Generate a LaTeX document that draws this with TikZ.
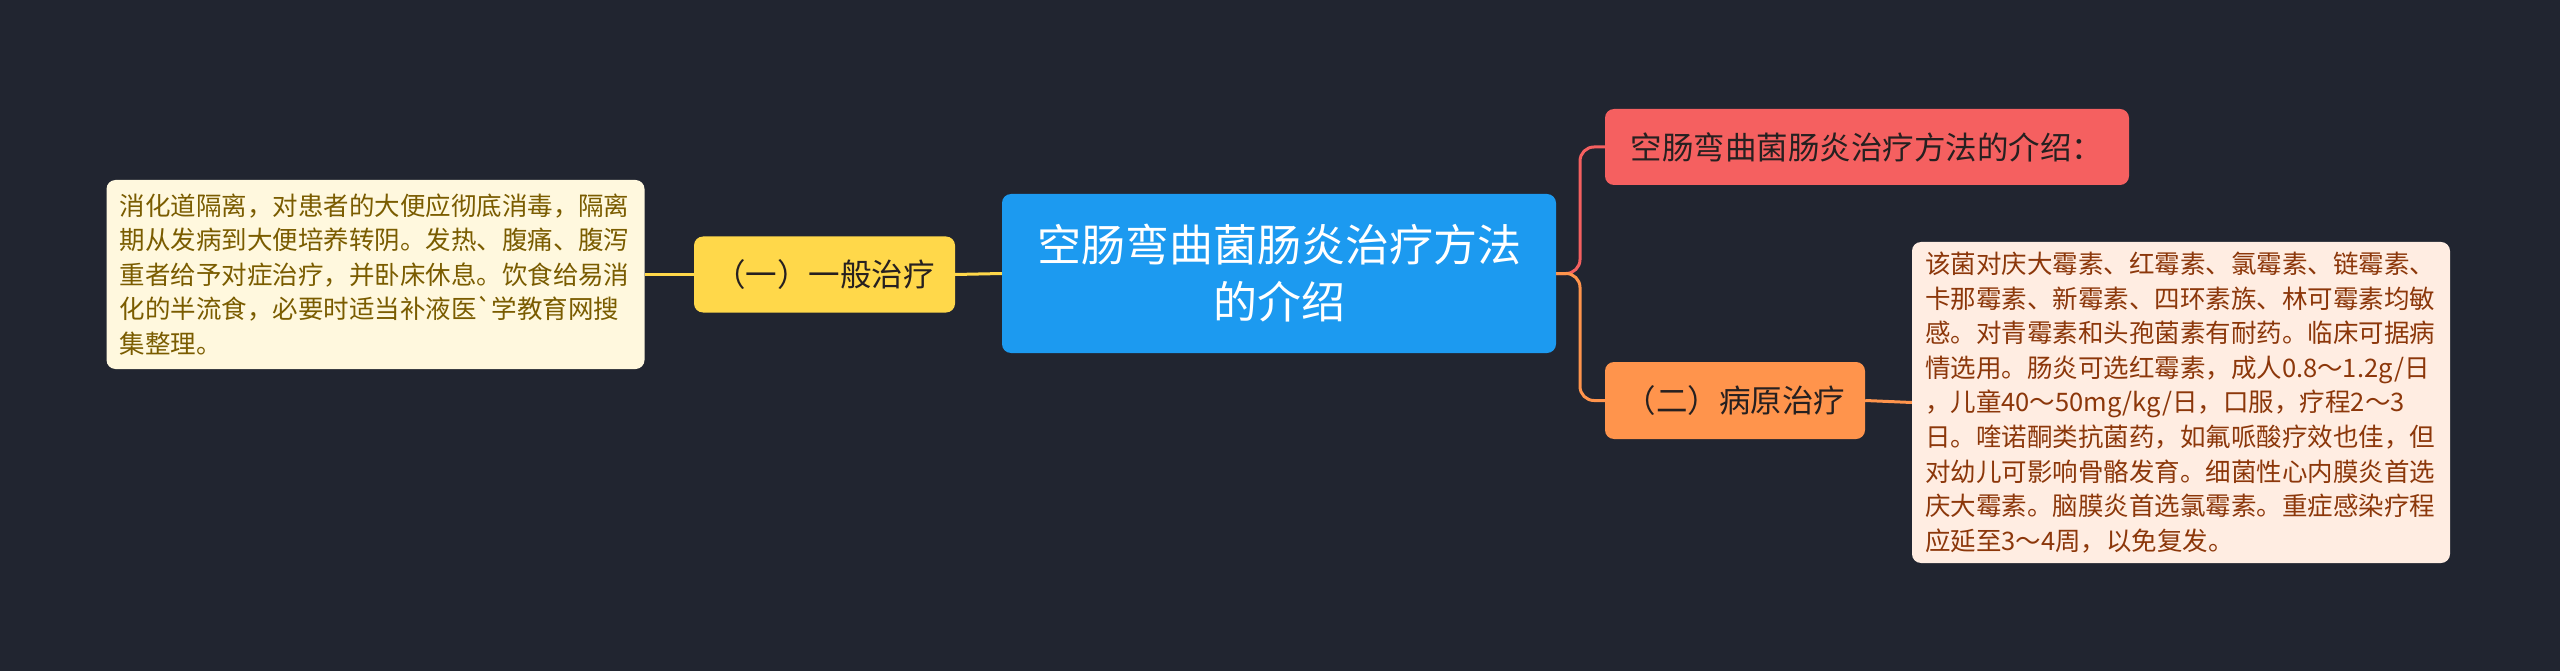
\documentclass[tikz,border=0pt]{standalone}
\usepackage{fontspec}
\setmainfont{Noto Sans CJK SC}
\usetikzlibrary{positioning}
\definecolor{bgdark}{RGB}{33,37,48}
\definecolor{blue1}{RGB}{28,154,240}
\definecolor{yellow1}{RGB}{255,216,74}
\definecolor{red1}{RGB}{245,96,96}
\definecolor{orange1}{RGB}{255,148,76}
\definecolor{cream1}{RGB}{255,248,222}
\definecolor{olive1}{RGB}{122,92,0}
\definecolor{peach1}{RGB}{255,237,226}
\definecolor{brown1}{RGB}{140,55,10}
\definecolor{ink1}{RGB}{38,32,32}
\tikzset{
  topic/.style={rounded corners=9pt, inner sep=0pt, align=center},
  leaf/.style={rounded corners=9pt, inner ysep=0pt, inner xsep=13pt, align=left,
    text width=512pt, font=\fontsize{25.5}{34.6}\selectfont},
  branch/.style={topic, text=ink1, minimum height=76pt, font=\fontsize{31.5}{38}\selectfont},
  link/.style={line width=3pt, rounded corners=14pt}
}

\begin{document}
\begin{tikzpicture}[x=1pt, y=-1pt]
  \fill[bgdark] (0,0) rectangle (2560,671);

  \node[topic, fill=blue1, text=white, minimum width=554pt, minimum height=159pt,
    font=\fontsize{44}{57}\selectfont] (center) at (1279,273.5) {空肠弯曲菌肠炎治疗方法\\的介绍};

  \node[branch, fill=yellow1, minimum width=261pt] (general) at (824.5,274.5) {（一）一般治疗};
  \node[leaf, fill=cream1, text=olive1, minimum height=189pt] (generalleaf) at (375.5,274.5)
    {消化道隔离，对患者的大便应彻底消毒，隔离\\
     期从发病到大便培养转阴。发热、腹痛、腹泻\\
     重者给予对症治疗，并卧床休息。饮食给易消\\
     化的半流食，必要时适当补液医\textasciigrave 学教育网搜\\
     集整理。};

  \node[branch, fill=red1, minimum width=524pt] (intro) at (1867,147) {空肠弯曲菌肠炎治疗方法的介绍：};
  \node[branch, fill=orange1, minimum width=260pt, minimum height=77pt] (cause) at (1735,400.5) {（二）病原治疗};
  \node[leaf, fill=peach1, text=brown1, minimum height=321pt] (causeleaf) at (2181,402.5)
    {该菌对庆大霉素、红霉素、氯霉素、链霉素、\\
     卡那霉素、新霉素、四环素族、林可霉素均敏\\
     感。对青霉素和头孢菌素有耐药。临床可据病\\
     情选用。肠炎可选红霉素，成人0.8～1.2g/日\\
     ，儿童40～50mg/kg/日，口服，疗程2～3\\
     日。喹诺酮类抗菌药，如氟哌酸疗效也佳，但\\
     对幼儿可影响骨骼发育。细菌性心内膜炎首选\\
     庆大霉素。脑膜炎首选氯霉素。重症感染疗程\\
     应延至3～4周，以免复发。};

  \coordinate (fork) at (1580,273.5);
  \draw[link, yellow1] (center.west) -- (general.east);
  \draw[link, yellow1] (general.west) -- (generalleaf.east);
  \draw[link, red1] (center.east) -- (fork) |- (intro.west);
  \draw[link, orange1] (center.east) -- (fork) |- (cause.west);
  \draw[link, orange1] (cause.east) -- (causeleaf.west);
\end{tikzpicture}
\end{document}
